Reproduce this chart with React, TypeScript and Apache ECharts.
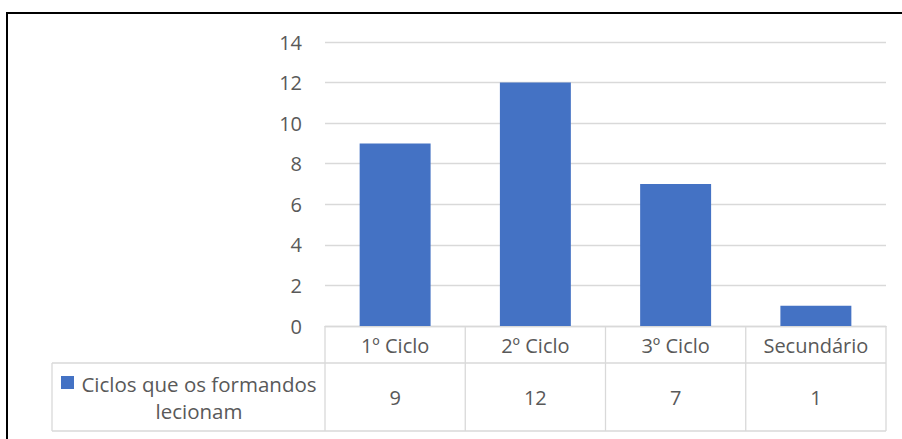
import React, { useEffect, useRef } from "react";
import * as echarts from "echarts";

// Number of trainees per teaching cycle
const categories = ["1º Ciclo", "2º Ciclo", "3º Ciclo", "Secundário"];
const values = [9, 12, 7, 1];
const seriesName = "Ciclos que os formandos lecionam";
const seriesLines = ["Ciclos que os formandos", "lecionam"];
const yMin = 0;
const yMax = 14;
const yStep = 2;

const W = 902;
const H = 439;
const FONT = "'Open Sans', sans-serif";
const TEXT = "#595959";
const LINE = "#d9d9d9";
const BAR = "#4472C4";

// Plot and data-table layout
const plotLeft = 325;
const plotRight = 886;
const plotTop = 42;
const axisY = 326;
const rowSplitY = 363;
const tableBottom = 431;
const tableLeft = 52;

export default function App() {
  const ref = useRef<HTMLDivElement>(null);

  useEffect(() => {
    if (!ref.current) return;
    const chart = echarts.init(ref.current, undefined, { renderer: "svg" });
    const band = (plotRight - plotLeft) / categories.length;
    const line = (x1: number, y1: number, x2: number, y2: number) => ({
      type: "line",
      shape: { x1, y1, x2, y2 },
      style: { stroke: LINE, lineWidth: 1.3 },
      silent: true,
    });

    const graphics: any[] = [];
    // outer chart border
    graphics.push({
      type: "rect",
      shape: { x: 7, y: 13, width: 1200, height: 1200 },
      style: { fill: "none", stroke: "#000", lineWidth: 2 },
      silent: true,
    });
    // table grid lines
    graphics.push(line(tableLeft, rowSplitY, plotRight, rowSplitY));
    graphics.push(line(tableLeft, tableBottom, plotRight, tableBottom));
    graphics.push(line(tableLeft, rowSplitY, tableLeft, tableBottom));
    for (let i = 0; i <= categories.length; i++) {
      const x = plotLeft + band * i;
      graphics.push(line(x, axisY, x, tableBottom));
    }
    // value cells
    values.forEach((v, i) => {
      graphics.push({
        type: "text",
        x: plotLeft + band * (i + 0.5),
        y: (rowSplitY + tableBottom) / 2,
        style: {
          text: String(v),
          fill: TEXT,
          font: `20px ${FONT}`,
          align: "center",
          verticalAlign: "middle",
        },
      });
    });
    // legend key and series name cell
    graphics.push({
      type: "rect",
      shape: { x: 61, y: 376, width: 13, height: 13 },
      style: { fill: BAR },
    });
    graphics.push({
      type: "text",
      x: 199,
      y: (rowSplitY + tableBottom) / 2,
      style: {
        text: seriesLines.join("\n"),
        fill: TEXT,
        font: `20.5px ${FONT}`,
        lineHeight: 27,
        align: "center",
        verticalAlign: "middle",
      },
    });

    chart.setOption({
      animation: false,
      backgroundColor: "#fff",
      grid: {
        left: plotLeft,
        right: W - plotRight,
        top: plotTop,
        bottom: H - axisY,
        containLabel: false,
      },
      xAxis: {
        type: "category",
        data: categories,
        axisLine: { show: true, lineStyle: { color: LINE, width: 1.3 } },
        axisTick: { show: false },
        axisLabel: {
          color: TEXT,
          fontFamily: FONT,
          fontSize: 20,
          margin: 19,
          verticalAlign: "middle",
          interval: 0,
        },
      },
      yAxis: {
        type: "value",
        min: yMin,
        max: yMax,
        interval: yStep,
        axisLine: { show: false },
        axisTick: { show: false },
        axisLabel: { color: TEXT, fontFamily: FONT, fontSize: 20, margin: 23 },
        splitLine: { lineStyle: { color: LINE, width: 1.3 } },
      },
      series: [
        {
          name: seriesName,
          type: "bar",
          data: values,
          barWidth: "50.6%",
          itemStyle: { color: BAR },
        },
      ],
      graphic: graphics,
    });

    return () => chart.dispose();
  }, []);

  return (
    <div
      ref={ref}
      style={{ position: "fixed", left: 0, top: 0, width: W, height: H }}
    />
  );
}
